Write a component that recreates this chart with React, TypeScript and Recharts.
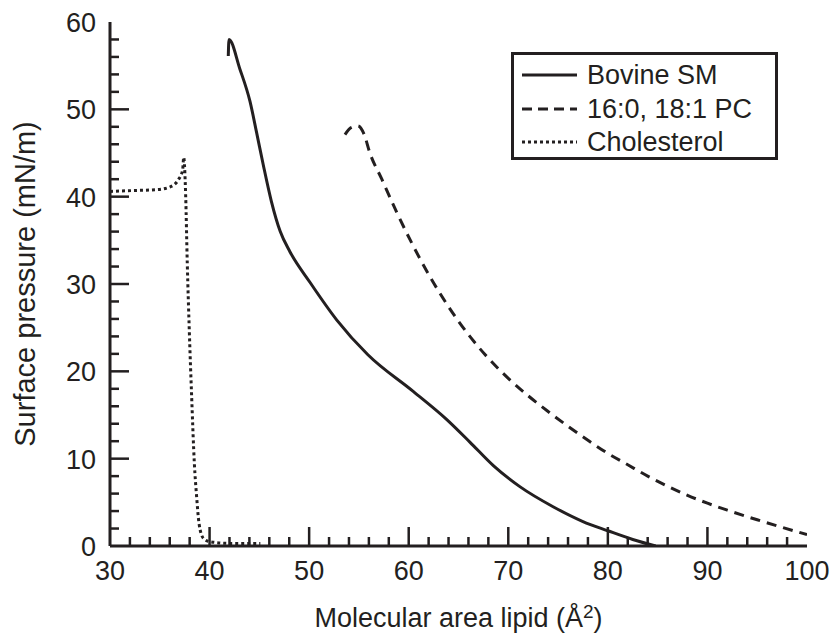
import React from 'react';
import { LineChart, Line, XAxis, YAxis, Legend, Label } from 'recharts';

// ---- data ----
const bovineSmArea = [41.88, 41.95, 43.05, 44.06, 44.73, 45.4, 46.2, 47.1, 48.07, 50.08, 52.76, 55.9, 60.45, 63.8, 66.14, 68.5, 71.16, 74.5, 77.5, 80.0, 82.5, 84.8];
const bovineSmPressure = [56.1, 58.0, 54.6, 50.9, 47.3, 43.6, 39.5, 36.0, 33.7, 30.2, 25.9, 21.9, 17.7, 14.5, 11.9, 9.2, 6.8, 4.5, 2.8, 1.75, 0.75, 0];

const popcArea = [53.6, 54.2, 54.9, 55.5, 56.1, 57.3, 58.8, 60.3, 62.1, 64.0, 66.0, 68.0, 70.0, 72.0, 74.0, 76.0, 78.0, 80.0, 82.0, 84.0, 86.0, 88.0, 90.0, 92.0, 95.0, 100.0];
const popcPressure = [47.1, 47.9, 48.1, 47.2, 45.0, 42.0, 38.2, 34.7, 30.9, 27.4, 24.2, 21.5, 19.2, 17.2, 15.4, 13.7, 12.1, 10.6, 9.3, 8.0, 6.85, 5.8, 4.9, 4.1, 3.0, 1.3];

const cholArea = [30.0, 32.3, 34.7, 36.0, 36.9, 37.3, 37.4, 37.6, 37.76, 37.96, 38.2, 38.47, 38.7, 38.94, 39.37, 40.0, 42.0, 45.1];
const cholPressure = [40.6, 40.7, 40.8, 41.1, 42.0, 43.1, 44.5, 40.1, 32.4, 24.8, 17.1, 9.5, 5.65, 2.6, 0.9, 0.5, 0.3, 0.3];

const seriesNames = ['Bovine SM', '16:0, 18:1 PC', 'Cholesterol'];
const seriesDash = ['', '10 7', '3 3'];
const legendDash = ['', '10 6', '3 3'];

const xTicks = [30, 32, 34, 36, 38, 40, 42, 44, 46, 48, 50, 52, 54, 56, 58, 60, 62, 64, 66, 68, 70, 72, 74, 76, 78, 80, 82, 84, 86, 88, 90, 92, 94, 96, 98, 100];
const xMajor = [30, 40, 50, 60, 70, 80, 90, 100];
const yTicks = [0, 2, 4, 6, 8, 10, 12, 14, 16, 18, 20, 22, 24, 26, 28, 30, 32, 34, 36, 38, 40, 42, 44, 46, 48, 50, 52, 54, 56, 58, 60];
const yMajor = [0, 10, 20, 30, 40, 50, 60];

const xTitle = 'Molecular area lipid (Å';
const yTitle = 'Surface pressure (mN/m)';

const toPoints = (xs: number[], ys: number[]) => xs.map((x, i) => ({ x, y: ys[i] }));
const bovineData = toPoints(bovineSmArea, bovineSmPressure);
const popcData = toPoints(popcArea, popcPressure);
const cholData = toPoints(cholArea, cholPressure);

const INK = '#231f20';
const FONT = '"Liberation Sans", Arial, Helvetica, sans-serif';

const XTick = (props: any) => {
  const { x, y, payload } = props;
  const v = payload.value;
  const major = xMajor.includes(v);
  const edge = v === 30 || v === 100;
  return (
    <g>
      {!edge && <line x1={x} x2={x} y1={y} y2={y - (major ? 19 : 9)} stroke={INK} strokeWidth={2.5} />}
      {major && (
        <text x={x} y={y + 34} textAnchor="middle" fontSize={27} fontFamily={FONT} fill={INK}>
          {v}
        </text>
      )}
    </g>
  );
};

const YTick = (props: any) => {
  const { x, y, payload } = props;
  const v = payload.value;
  const major = yMajor.includes(v);
  const edge = v === 0 || v === 60;
  return (
    <g>
      {!edge && <line x1={x} x2={x + (major ? 19 : 9)} y1={y} y2={y} stroke={INK} strokeWidth={2.5} />}
      {major && (
        <text x={x - 14} y={y + 10} textAnchor="end" fontSize={27} fontFamily={FONT} fill={INK}>
          {v}
        </text>
      )}
    </g>
  );
};

const XTitleContent = (props: any) => {
  const { viewBox } = props;
  const cx = viewBox.x + viewBox.width / 2;
  return (
    <text x={cx} y={viewBox.y + 81} textAnchor="middle" fontSize={27} fontFamily={FONT} fill={INK}>
      <tspan>{xTitle}</tspan>
      <tspan fontSize={19} dy={-9}>2</tspan>
      <tspan dy={9}>)</tspan>
    </text>
  );
};

const YTitleContent = (props: any) => {
  const { viewBox } = props;
  const cy = viewBox.y + viewBox.height / 2;
  const bx = 35;
  return (
    <text
      x={bx}
      y={cy}
      transform={`rotate(-90 ${bx} ${cy})`}
      textAnchor="middle"
      fontSize={29}
      fontFamily={FONT}
      fill={INK}
    >
      {yTitle}
    </text>
  );
};

const LegendBox = () => (
  <div
    style={{
      position: 'relative',
      width: 267,
      height: 108,
      border: `3px solid ${INK}`,
      boxSizing: 'border-box',
      background: '#fff',
      fontFamily: FONT,
    }}
  >
    {seriesNames.map((name, i) => (
      <div
        key={name}
        style={{ position: 'absolute', left: 8, top: [3, 37, 70][i], height: 34, display: 'flex', alignItems: 'center' }}
      >
        <svg width={55} height={10} style={{ display: 'block' }}>
          <line x1={0} x2={55} y1={5} y2={5} stroke={INK} strokeWidth={3} strokeDasharray={legendDash[i] || undefined} />
        </svg>
        <span style={{ marginLeft: 10, fontSize: 27, lineHeight: '34px', color: INK, whiteSpace: 'nowrap' }}>{name}</span>
      </div>
    ))}
  </div>
);

export default function App() {
  return (
    <div style={{ position: 'absolute', left: 0, top: 0, width: 833, height: 635, background: '#fff' }}>
      <LineChart width={833} height={635} margin={{ top: 22, right: 26, bottom: 29, left: 40 }}>
        <XAxis
          xAxisId="top"
          orientation="top"
          type="number"
          dataKey="x"
          domain={[30, 100]}
          height={0}
          tick={false}
          tickLine={false}
          axisLine={{ stroke: INK, strokeWidth: 3 }}
        />
        <YAxis
          yAxisId="right"
          orientation="right"
          type="number"
          domain={[0, 60]}
          width={0}
          tick={false}
          tickLine={false}
          axisLine={{ stroke: INK, strokeWidth: 3 }}
        />
        <XAxis
          type="number"
          dataKey="x"
          domain={[30, 100]}
          ticks={xTicks}
          interval={0}
          allowDataOverflow
          height={60}
          tickSize={0}
          tickMargin={0}
          tickLine={false}
          tick={<XTick />}
          axisLine={{ stroke: INK, strokeWidth: 3 }}
        >
          <Label content={<XTitleContent />} />
        </XAxis>
        <YAxis
          type="number"
          dataKey="y"
          domain={[0, 60]}
          ticks={yTicks}
          interval={0}
          allowDataOverflow
          width={70}
          tickSize={0}
          tickMargin={0}
          tickLine={false}
          tick={<YTick />}
          axisLine={{ stroke: INK, strokeWidth: 3 }}
        >
          <Label content={<YTitleContent />} />
        </YAxis>
        <Legend
          layout="vertical"
          align="center"
          verticalAlign="middle"
          width={267}
          height={108}
          wrapperStyle={{ left: 511, top: 52, width: 267, height: 108 }}
          content={<LegendBox />}
        />
        <Line
          data={bovineData}
          dataKey="y"
          name={seriesNames[0]}
          type="monotone"
          stroke={INK}
          strokeWidth={3}
          dot={false}
          activeDot={false}
          isAnimationActive={false}
        />
        <Line
          data={popcData}
          dataKey="y"
          name={seriesNames[1]}
          type="monotone"
          stroke={INK}
          strokeWidth={3}
          strokeDasharray={seriesDash[1]}
          dot={false}
          activeDot={false}
          isAnimationActive={false}
        />
        <Line
          data={cholData}
          dataKey="y"
          name={seriesNames[2]}
          type="monotone"
          stroke={INK}
          strokeWidth={3}
          strokeDasharray={seriesDash[2]}
          dot={false}
          activeDot={false}
          isAnimationActive={false}
        />
      </LineChart>
    </div>
  );
}
